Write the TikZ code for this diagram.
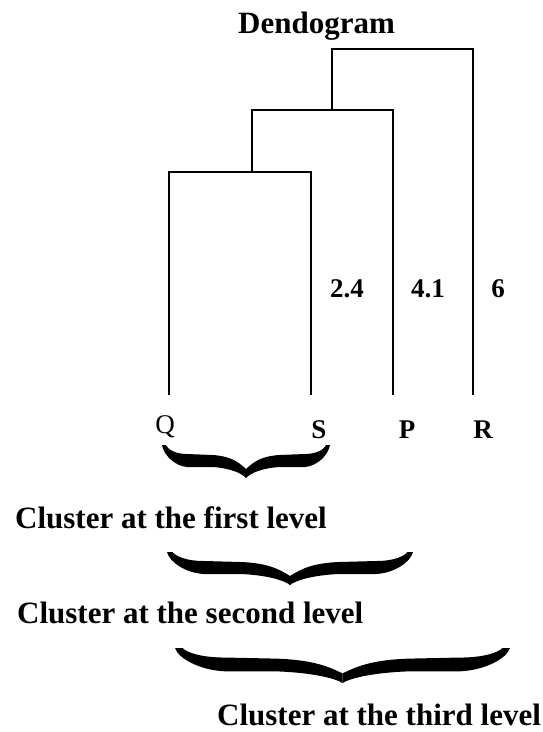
\documentclass[tikz,border=0pt]{standalone}
\usepackage{fontspec}
\setmainfont{Liberation Serif}
\newcommand\mybrace[4]{%
  \begin{scope}[shift={(#1,#3)}, xscale={(#2-#1)/2}, yscale={#4/33}]
    \fill[black] (0,0) .. controls (0.02,10) and (0.15,21) .. (0.3,22) -- (0.6,22)
      .. controls (0.8,23) and (0.95,28) .. (1,33) -- (1,24)
      .. controls (0.9,16) and (0.8,11) .. (0.6,10) -- (0.3,9)
      .. controls (0.15,9) and (0.07,4) .. (0.045,0) -- cycle;
    \fill[black] (2,0) .. controls (1.98,10) and (1.85,21) .. (1.7,22) -- (1.4,22)
      .. controls (1.2,23) and (1.05,28) .. (1,33) -- (1,24)
      .. controls (1.1,16) and (1.2,11) .. (1.4,10) -- (1.7,9)
      .. controls (1.85,9) and (1.93,4) .. (1.955,0) -- cycle;
  \end{scope}}
\tikzset{
  link/.style={line width=1.6pt, line join=miter},
  bigtext/.style={font=\fontsize{31}{36}\selectfont\bfseries, inner sep=0pt},
  leaflabel/.style={font=\fontsize{27}{32}\selectfont\bfseries, inner sep=0pt, anchor=base},
  distlabel/.style={font=\fontsize{27}{32}\selectfont\bfseries, inner sep=0pt, anchor=base}
}
\begin{document}
\begin{tikzpicture}[x=1pt,y=-1pt]
\fill[white] (0,0) rectangle (543,732);
\useasboundingbox (0,0) rectangle (543,732);
% title
\node[bigtext, anchor=base west] (title) at (238,33) {Dendogram};
% leaves
\coordinate (q) at (169,395);
\coordinate (s) at (311,395);
\coordinate (p) at (393,395);
\coordinate (r) at (473,395);
% merges
\coordinate (m1) at (252,172);
\coordinate (m2) at (332,110);
\coordinate (m3) at (332,49);
\draw[link] (q) |- (m1) -| (s);
\draw[link] (m1) |- (m2) -| (p);
\draw[link] (m2) |- (m3) -| (r);
% leaf labels
\node[leaflabel, font=\fontsize{27}{32}\selectfont] (lq) at (165,433) {Q};
\node[leaflabel] (ls) at (319,438) {S};
\node[leaflabel] (lp) at (407,438) {P};
\node[leaflabel] (lr) at (483,438) {R};
% distances
\node[distlabel] (d1) at (347,297) {2.4};
\node[distlabel] (d2) at (428,297) {4.1};
\node[distlabel] (d3) at (498,297) {6};
% braces
\mybrace{162}{330}{445}{33}
\mybrace{167}{413}{552}{33}
\mybrace{175}{510}{648}{35}
% cluster texts
\node[bigtext, anchor=base west] (c1) at (15,528) {Cluster at the first level};
\node[bigtext, anchor=base west] (c2) at (17,623) {Cluster at the second level};
\node[bigtext, anchor=base west] (c3) at (217,725) {Cluster at the third level};
\end{tikzpicture}
\end{document}
